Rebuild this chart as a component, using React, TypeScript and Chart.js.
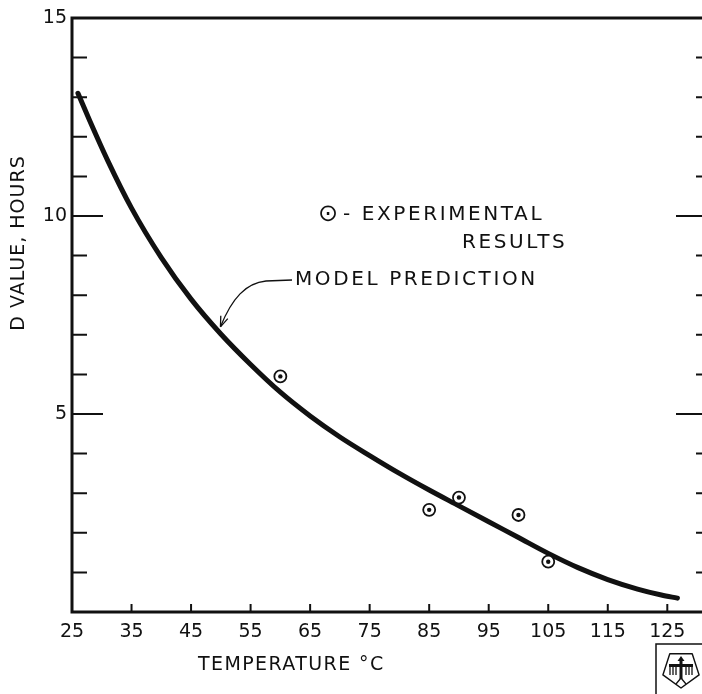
import React, { useEffect, useRef } from "react";
import { Chart, registerables } from "chart.js";

Chart.register(...registerables);

// ---- data ----
const MODEL_T = [26, 28, 31, 35, 40, 45, 50, 55, 60, 65, 70, 75, 80, 85, 90, 95, 100, 105, 110, 115, 120, 124, 126.7];
const MODEL_D = [13.1, 12.4, 11.4, 10.2, 8.95, 7.9, 7.02, 6.25, 5.55, 4.95, 4.42, 3.95, 3.5, 3.08, 2.68, 2.28, 1.88, 1.48, 1.12, 0.82, 0.58, 0.43, 0.35];
const EXP_T = [60, 85, 90, 100, 105];
const EXP_D = [5.95, 2.58, 2.89, 2.45, 1.27];
const X_TICKS = [25, 35, 45, 55, 65, 75, 85, 95, 105, 115, 125];
const Y_TICKS = [0, 1, 2, 3, 4, 5, 6, 7, 8, 9, 10, 11, 12, 13, 14, 15];
const Y_LABELS = [5, 10, 15];
const X_TITLE = "TEMPERATURE °C";
const Y_TITLE = "D VALUE, HOURS";
const LEGEND_SYMBOL = "⊙";
const LEGEND_LINE1 = "- EXPERIMENTAL";
const LEGEND_LINE2 = "RESULTS";
const MODEL_LABEL = "MODEL PREDICTION";

const INK = "#111111";
const FONT = '"DejaVu Sans", sans-serif';

const decor = {
  id: "decor",
  afterDraw(chart: any) {
    const { ctx, chartArea: a, scales } = chart;
    const xs = scales.x;
    const ys = scales.y;
    ctx.save();
    ctx.strokeStyle = INK;
    ctx.fillStyle = INK;

    // frame
    ctx.lineWidth = 3;
    ctx.beginPath();
    ctx.moveTo(a.right, a.top);
    ctx.lineTo(a.left, a.top);
    ctx.lineTo(a.left, a.bottom);
    ctx.lineTo(a.right, a.bottom);
    ctx.lineTo(a.right, a.top);
    ctx.stroke();

    // inward ticks on y axes
    ctx.lineWidth = 2;
    for (const t of ys.ticks) {
      const v = t.value;
      if (v <= 0 || v >= 15) continue;
      const py = ys.getPixelForValue(v);
      const major = v % 5 === 0;
      ctx.beginPath();
      ctx.moveTo(a.left, py);
      ctx.lineTo(a.left + (major ? 31 : 15), py);
      ctx.moveTo(a.right, py);
      ctx.lineTo(a.right - (major ? 30 : 10), py);
      ctx.stroke();
    }
    // inward ticks on x axis
    for (const t of xs.ticks) {
      const v = t.value;
      if (v <= X_TICKS[0]) continue;
      const px = xs.getPixelForValue(v);
      ctx.beginPath();
      ctx.moveTo(px, a.bottom);
      ctx.lineTo(px, a.bottom - 8);
      ctx.stroke();
    }

    // texts
    ctx.textBaseline = "middle";
    ctx.textAlign = "left";
    ctx.font = `24px ${FONT}`;
    ctx.fillText(LEGEND_SYMBOL, 318, 215);
    ctx.font = `20px ${FONT}`;
    (ctx as any).letterSpacing = "2.6px";
    ctx.fillText(LEGEND_LINE1, 343, 215);
    ctx.fillText(LEGEND_LINE2, 462, 243);
    ctx.fillText(MODEL_LABEL, 295, 280);
    ctx.font = `19px ${FONT}`;
    (ctx as any).letterSpacing = "1.4px";
    ctx.fillText(X_TITLE, 198, 665);
    ctx.save();
    ctx.translate(19, 243);
    ctx.rotate(-Math.PI / 2);
    ctx.textAlign = "center";
    (ctx as any).letterSpacing = "1px";
    ctx.fillText(Y_TITLE, 0, 0);
    ctx.restore();
    (ctx as any).letterSpacing = "0px";

    // arrow from label to the curve
    const tipX = xs.getPixelForValue(49.6) + 2;
    const tipY = ys.getPixelForValue(7.1) - 4;
    ctx.lineWidth = 1.3;
    ctx.beginPath();
    ctx.moveTo(292, 280);
    ctx.lineTo(266, 281);
    ctx.bezierCurveTo(246, 283, 232, 298, tipX, tipY);
    ctx.stroke();
    const ang = Math.atan2(tipY - 298, tipX - 232);
    ctx.beginPath();
    ctx.moveTo(tipX, tipY);
    ctx.lineTo(tipX - 11 * Math.cos(ang - 0.35), tipY - 11 * Math.sin(ang - 0.35));
    ctx.moveTo(tipX, tipY);
    ctx.lineTo(tipX - 11 * Math.cos(ang + 0.35), tipY - 11 * Math.sin(ang + 0.35));
    ctx.stroke();

    // publisher mark at bottom right
    ctx.lineWidth = 1.5;
    ctx.beginPath();
    ctx.moveTo(656, 694);
    ctx.lineTo(656, 644);
    ctx.lineTo(702, 644);
    ctx.stroke();
    const cx = 681, cy = 669, r = 19;
    ctx.lineJoin = "round";
    ctx.beginPath();
    for (let k = 0; k < 5; k++) {
      const an = Math.PI / 2 + (k * 2 * Math.PI) / 5;
      const px = cx + r * Math.cos(an);
      const py = cy + r * Math.sin(an);
      if (k === 0) ctx.moveTo(px, py); else ctx.lineTo(px, py);
    }
    ctx.closePath();
    ctx.stroke();
    // stylised bird
    ctx.beginPath();
    ctx.moveTo(681, 656);
    ctx.lineTo(677.5, 661);
    ctx.lineTo(684.5, 661);
    ctx.closePath();
    ctx.fill();
    ctx.fillRect(679.5, 661, 3, 18);
    ctx.fillRect(669, 664, 24, 3);
    ctx.lineWidth = 1.3;
    for (const dx of [-11, -8, -5, 5, 8, 11]) {
      ctx.beginPath();
      ctx.moveTo(681 + dx, 667);
      ctx.lineTo(681 + dx, 675);
      ctx.stroke();
    }
    ctx.beginPath();
    ctx.moveTo(676, 684);
    ctx.lineTo(681, 678);
    ctx.lineTo(686, 684);
    ctx.stroke();

    ctx.restore();
  },
};

export default function App() {
  const ref = useRef<HTMLCanvasElement | null>(null);
  useEffect(() => {
    if (!ref.current) return;
    const chart = new Chart(ref.current, {
      type: "line",
      data: {
        datasets: [
          {
            label: "Model prediction",
            order: 3,
            data: MODEL_T.map((t, i) => ({ x: t, y: MODEL_D[i] })),
            borderColor: INK,
            borderWidth: 5,
            pointRadius: 0,
            cubicInterpolationMode: "monotone",
            fill: false,
            borderCapStyle: "round",
          },
          {
            label: "Experimental results",
            order: 2,
            data: EXP_T.map((t, i) => ({ x: t, y: EXP_D[i] })),
            showLine: false,
            pointRadius: 6,
            pointBorderWidth: 1.8,
            pointBorderColor: INK,
            pointBackgroundColor: "#ffffff",
          },
          {
            label: "centre",
            order: 1,
            data: EXP_T.map((t, i) => ({ x: t, y: EXP_D[i] })),
            showLine: false,
            pointRadius: 2.2,
            pointBorderWidth: 0,
            pointBackgroundColor: INK,
            pointBorderColor: INK,
          },
        ],
      },
      options: {
        responsive: false,
        animation: false,
        devicePixelRatio: 1,
        layout: { padding: { top: 18, right: 24, left: 0, bottom: 0 } },
        plugins: { legend: { display: false }, tooltip: { enabled: false } },
        scales: {
          x: {
            type: "linear",
            min: 25,
            max: 131.5,
            grid: { display: false, drawTicks: false },
            border: { display: false },
            afterBuildTicks: (s: any) => {
              s.ticks = X_TICKS.map((v) => ({ value: v }));
            },
            afterFit: (s: any) => {
              s.height = 82;
            },
            ticks: {
              color: INK,
              font: { family: FONT, size: 19 },
              padding: 9,
              autoSkip: false,
              maxRotation: 0,
              callback: (v: any) => String(v),
            },
          },
          y: {
            type: "linear",
            min: 0,
            max: 15,
            grid: { display: false, drawTicks: false },
            border: { display: false },
            afterBuildTicks: (s: any) => {
              s.ticks = Y_TICKS.map((v) => ({ value: v }));
            },
            afterFit: (s: any) => {
              s.width = 72;
            },
            ticks: {
              color: INK,
              font: { family: FONT, size: 19 },
              padding: 5,
              autoSkip: false,
              callback: (v: any) => (Y_LABELS.includes(Number(v)) ? String(v) : ""),
            },
          },
        },
      },
      plugins: [decor],
    } as any);
    return () => chart.destroy();
  }, []);

  return (
    <div
      style={{
        position: "fixed",
        left: 0,
        top: 0,
        width: 702,
        height: 694,
        overflow: "hidden",
        background: "#fff",
      }}
    >
      <canvas ref={ref} width={730} height={694} style={{ width: 730, height: 694, display: "block" }} />
    </div>
  );
}
